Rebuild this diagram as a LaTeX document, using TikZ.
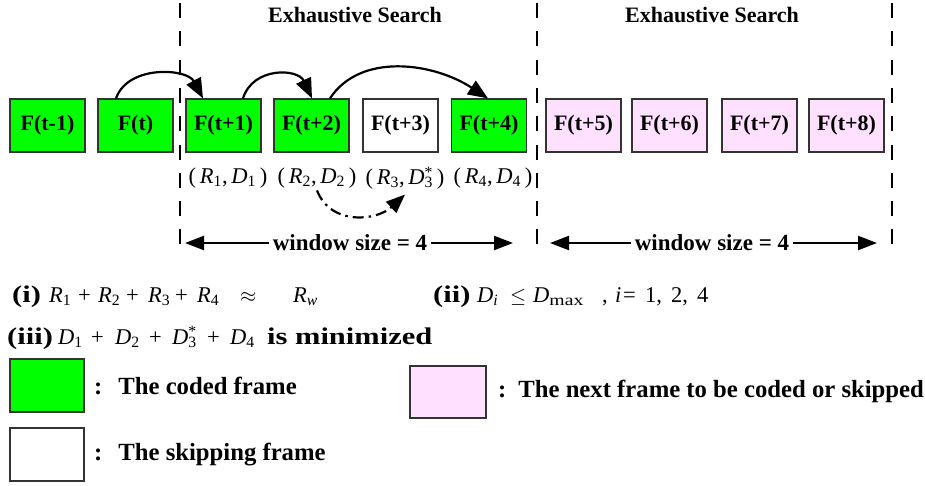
\documentclass[tikz,border=0pt]{standalone}
\usepackage{fontspec}
\usepackage{graphicx}
\setmainfont{Liberation Serif}
\usetikzlibrary{arrows.meta,calc}
\definecolor{fgreen}{RGB}{0,255,0}
\definecolor{fpink}{RGB}{255,224,255}
\newcommand\vR[1]{\textit{R}\textsubscript{#1}}
\newcommand\vD[1]{\textit{D}\textsubscript{#1}}
\newcommand\vDs[1]{\textit{D}\rlap{\textsuperscript{*}}\textsubscript{#1}}
\newcommand\seg[2]{\makebox[#1pt][l]{#2}}
\newcommand\blab[1]{\scalebox{1.27}[1]{\fontsize{24}{26}\selectfont\bfseries #1}}
\begin{document}
\begin{tikzpicture}[x=1pt,y=-1pt,
  frame/.style={draw=black!80, line width=1.2pt, minimum width=75pt, minimum height=53pt, inner sep=0pt, font=\fontsize{22}{24}\selectfont\bfseries},
  legbox/.style={draw=black!80, line width=1.2pt, minimum width=74pt, minimum height=53pt, inner sep=0pt},
  sep/.style={line width=2.6pt, dash pattern=on 15pt off 13.3pt},
  arc/.style={line width=2.2pt, -{Triangle[length=20pt,width=16pt]}},
  ddarc/.style={line width=2.2pt, dash pattern=on 11pt off 5pt on 2.5pt off 5pt, -{Triangle[length=19pt,width=15pt]}},
  warr/.style={line width=2.2pt, -{Triangle[length=19pt,width=14pt]}},
  lbl/.style={font=\fontsize{22.5}{24}\selectfont, inner sep=0pt},
  btxt/.style={font=\fontsize{22}{24}\selectfont\bfseries, inner sep=0pt},
  legtxt/.style={font=\fontsize{24.7}{26}\selectfont\bfseries, inner sep=0pt},
]
\useasboundingbox (0,0) rectangle (925,485);
\fill[white] (0,0) rectangle (925,485);

% separators
\coordinate (s1t) at (180,3); \coordinate (s1b) at (180,256);
\coordinate (s2t) at (537,3); \coordinate (s2b) at (537,256);
\coordinate (s3t) at (892,3); \coordinate (s3b) at (892,256);
\draw[sep] (s1t) -- (s1b);
\draw[sep] (s2t) -- (s2b);
\draw[sep] (s3t) -- (s3b);

% titles
\node[btxt] (es1) at (355,15) {Exhaustive Search};
\node[btxt] (es2) at (712,15) {Exhaustive Search};

% frames
\node[frame,fill=fgreen] (f0) at (47.5,125.5) {F(t-1)};
\node[frame,fill=fgreen] (f1) at (135.5,125.5) {F(t)};
\node[frame,fill=fgreen] (f2) at (223.5,125.5) {F(t+1)};
\node[frame,fill=fgreen] (f3) at (311.5,125.5) {F(t+2)};
\node[frame,fill=white]  (f4) at (400.5,125.5) {F(t+3)};
\node[frame,fill=fgreen] (f5) at (489,125.5) {F(t+4)};
\node[frame,fill=fpink]  (f6) at (583.5,125.5) {F(t+5)};
\node[frame,fill=fpink]  (f7) at (669.5,125.5) {F(t+6)};
\node[frame,fill=fpink]  (f8) at (759.5,125.5) {F(t+7)};
\node[frame,fill=fpink]  (f9) at (846.5,125.5) {F(t+8)};

% curved arrows
\coordinate (a1s) at ($(f1.north)+(-19.5,0)$);
\coordinate (a1e) at ($(f2.north)+(-20.5,0)$);
\coordinate (a2s) at ($(f2.north)+(19.5,0)$);
\coordinate (a2e) at ($(f3.north)+(0.5,0)$);
\coordinate (a3s) at ($(f3.north)+(18.5,0)$);
\coordinate (a3e) at ($(f5.north)+(-1,0)$);
\draw[arc] (a1s) .. controls +(12,-34) and +(-16,-30) .. (a1e);
\draw[arc] (a2s) .. controls +(10,-32) and +(-14,-30) .. (a2e);
\draw[arc] (a3s) .. controls +(30,-46) and +(-55,-36) .. (a3e);

% R,D labels
\node[lbl] (r1) at (228,178) {(\,\vR{1},\,\vD{1}\,)};
\node[lbl] (r2) at (317,178) {(\,\vR{2},\,\vD{2}\,)};
\node[lbl] (r3) at (405,178) {(\,\vR{3},\,\vDs{3}\,)};
\node[lbl] (r4) at (493,178) {(\,\vR{4},\,\vD{4}\,)};

\coordinate (d1) at ($(r2.south)+(0,2)$);
\coordinate (d2) at ($(r3.south)+(0,5)$);
\draw[ddarc] (d1) .. controls +(14,36) and +(-28,26) .. (d2);

% window size
\node[btxt,fill=white,inner xsep=4pt,font=\fontsize{23}{24}\selectfont\bfseries] (w1) at (350,243) {window size = 4};
\coordinate (w1l) at (185,243); \coordinate (w1r) at (513,243);
\draw[warr] (w1.west) -- (w1l);
\draw[warr] (w1.east) -- (w1r);
\node[btxt,fill=white,inner xsep=4pt,font=\fontsize{23}{24}\selectfont\bfseries] (w2) at (712,243) {window size = 4};
\coordinate (w2l) at (550,243); \coordinate (w2r) at (877,243);
\draw[warr] (w2.west) -- (w2l);
\draw[warr] (w2.east) -- (w2r);

% conditions
\node[lbl,anchor=base west] (c1) at (12,302) {\seg{37}{\blab{(i)}}\seg{29}{\vR{1}}\seg{20}{+}\seg{28}{\vR{2}}\seg{22}{+}\seg{27}{\vR{3}}\seg{22}{+}\seg{43}{\vR{4}}\seg{53}{$\approx$}\vR{\textit{w}}};
\node[lbl,anchor=base west] (c2) at (433,302) {\seg{44}{\blab{(ii)}}\seg{33}{\vD{\textit{i}}}\seg{23}{$\leq$}\seg{69}{\textit{D}\textsubscript{\scalebox{1.25}[1]{max}}}\seg{13}{,}\seg{8}{\textit{i}}\seg{22}{=}\seg{26}{1,}\seg{26}{2,}4};
\node[lbl,anchor=base west] (c3) at (7,344) {\seg{51}{\blab{(iii)}}\seg{33}{\vD{1}}\seg{24}{+}\seg{34}{\vD{2}}\seg{23}{+}\seg{35}{\vDs{3}}\seg{23}{+}\seg{37}{\vD{4}}\blab{is minimized}};

% legend
\node[legbox,fill=fgreen] (lg) at (47,385.5) {};
\node[legtxt,anchor=west] (lgt) at (94,386) {{:}\hspace{16pt}The coded frame};
\node[legbox] (lw) at (47,454.5) {};
\node[legtxt,anchor=west] (lwt) at (94,455) {{:}\hspace{16pt}The skipping frame};
\node[legbox,fill=fpink,minimum width=76pt,minimum height=52pt] (lp) at (448,392) {};
\node[legtxt,anchor=west] (lpt) at (498,391) {{:}\hspace{12pt}The next frame to be coded or skipped};
\end{tikzpicture}
\end{document}
